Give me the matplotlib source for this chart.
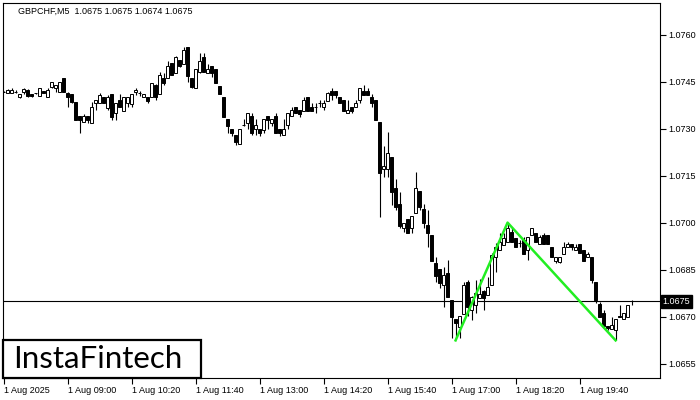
import numpy as np
import matplotlib.pyplot as plt
from matplotlib.patches import Rectangle
import matplotlib.transforms as mtransforms

plt.rcParams['font.family'] = ['Liberation Sans', 'DejaVu Sans']

# GBPCHF M5, 1 Aug 2025 07:40 .. 20:45
opens = [1.07419, 1.07416, 1.07414, 1.07417, 1.07401, 1.07417, 1.07424, 1.07411, 1.07415, 1.07405,
         1.07422, 1.07403, 1.07433, 1.07432, 1.07419, 1.07462, 1.07414, 1.07411, 1.07387, 1.07341,
         1.07323, 1.07341, 1.07320, 1.07382, 1.07382, 1.07401, 1.07366, 1.07412, 1.07350, 1.07393,
         1.07358, 1.07382, 1.07380, 1.07418, 1.07414, 1.07401, 1.07401, 1.07401, 1.07440, 1.07412,
         1.07462, 1.07462, 1.07512, 1.07480, 1.07520, 1.07507, 1.07563, 1.07462, 1.07430, 1.07481,
         1.07531, 1.07480, 1.07501, 1.07491, 1.07437, 1.07401, 1.07331, 1.07299, 1.07281, 1.07251,
         1.07313, 1.07320, 1.07341, 1.07299, 1.07299, 1.07297, 1.07341, 1.07320, 1.07341, 1.07299,
         1.07280, 1.07313, 1.07341, 1.07371, 1.07361, 1.07358, 1.07403, 1.07371, 1.07369, 1.07382,
         1.07369, 1.07390, 1.07422, 1.07422, 1.07403, 1.07393, 1.07350, 1.07371, 1.07369, 1.07393,
         1.07422, 1.07422, 1.07403, 1.07393, 1.07323, 1.07171, 1.07171, 1.07210, 1.07111, 1.07061,
         1.06983, 1.07012, 1.06983, 1.07031, 1.07103, 1.07044, 1.06994, 1.06962, 1.06871, 1.06852,
         1.06802, 1.06841, 1.06754, 1.06693, 1.06669, 1.06709, 1.06813, 1.06722, 1.06738, 1.06761,
         1.06783, 1.06770, 1.06802, 1.06890, 1.06914, 1.06930, 1.06940, 1.06972, 1.06951, 1.06935,
         1.06946, 1.06914, 1.06962, 1.06969, 1.06933, 1.06962, 1.06962, 1.06924, 1.06880, 1.06876,
         1.06901, 1.06924, 1.06933, 1.06914, 1.06933, 1.06914, 1.06890, 1.06892, 1.06813, 1.06741,
         1.06714, 1.06671, 1.06661, 1.06658, 1.06703, 1.06693, 1.06701, 1.06750]
highs = [1.07421, 1.07428, 1.07432, 1.07424, 1.07412, 1.07430, 1.07428, 1.07412, 1.07416, 1.07431,
         1.07422, 1.07430, 1.07451, 1.07440, 1.07451, 1.07462, 1.07419, 1.07411, 1.07387, 1.07341,
         1.07348, 1.07341, 1.07387, 1.07393, 1.07414, 1.07401, 1.07408, 1.07412, 1.07382, 1.07412,
         1.07401, 1.07401, 1.07412, 1.07430, 1.07421, 1.07412, 1.07401, 1.07448, 1.07444, 1.07483,
         1.07480, 1.07518, 1.07512, 1.07533, 1.07520, 1.07563, 1.07563, 1.07462, 1.07491, 1.07542,
         1.07542, 1.07507, 1.07501, 1.07491, 1.07437, 1.07401, 1.07331, 1.07299, 1.07281, 1.07299,
         1.07331, 1.07352, 1.07352, 1.07331, 1.07299, 1.07331, 1.07341, 1.07331, 1.07352, 1.07299,
         1.07331, 1.07350, 1.07371, 1.07371, 1.07361, 1.07403, 1.07403, 1.07382, 1.07382, 1.07393,
         1.07393, 1.07419, 1.07430, 1.07422, 1.07403, 1.07393, 1.07393, 1.07371, 1.07393, 1.07430,
         1.07440, 1.07430, 1.07412, 1.07393, 1.07323, 1.07244, 1.07291, 1.07210, 1.07139, 1.07100,
         1.07001, 1.07012, 1.07022, 1.07164, 1.07103, 1.07061, 1.07041, 1.06962, 1.06892, 1.06852,
         1.06860, 1.06882, 1.06754, 1.06693, 1.06703, 1.06813, 1.06818, 1.06767, 1.06818, 1.06820,
         1.06786, 1.06828, 1.06904, 1.06935, 1.06967, 1.06967, 1.07001, 1.06988, 1.06951, 1.06946,
         1.06956, 1.06956, 1.06983, 1.06969, 1.06962, 1.06967, 1.06962, 1.06924, 1.06890, 1.06890,
         1.06940, 1.06940, 1.06933, 1.06933, 1.06933, 1.06914, 1.06907, 1.06892, 1.06813, 1.06748,
         1.06722, 1.06671, 1.06701, 1.06693, 1.06738, 1.06713, 1.06738, 1.06754]
lows = [1.07417, 1.07415, 1.07414, 1.07414, 1.07398, 1.07411, 1.07402, 1.07401, 1.07411, 1.07405,
        1.07414, 1.07403, 1.07430, 1.07418, 1.07419, 1.07419, 1.07371, 1.07382, 1.07329, 1.07288,
        1.07323, 1.07320, 1.07320, 1.07361, 1.07382, 1.07382, 1.07361, 1.07329, 1.07329, 1.07371,
        1.07358, 1.07371, 1.07371, 1.07408, 1.07405, 1.07401, 1.07382, 1.07401, 1.07393, 1.07412,
        1.07440, 1.07462, 1.07472, 1.07480, 1.07499, 1.07507, 1.07451, 1.07430, 1.07430, 1.07478,
        1.07483, 1.07480, 1.07467, 1.07446, 1.07412, 1.07339, 1.07288, 1.07278, 1.07249, 1.07251,
        1.07310, 1.07299, 1.07281, 1.07281, 1.07278, 1.07288, 1.07299, 1.07310, 1.07288, 1.07278,
        1.07280, 1.07299, 1.07341, 1.07350, 1.07339, 1.07358, 1.07358, 1.07358, 1.07350, 1.07371,
        1.07361, 1.07390, 1.07393, 1.07398, 1.07382, 1.07358, 1.07350, 1.07350, 1.07369, 1.07382,
        1.07408, 1.07408, 1.07369, 1.07329, 1.07020, 1.07148, 1.07148, 1.07057, 1.07041, 1.06983,
        1.06972, 1.06969, 1.06969, 1.07031, 1.07041, 1.06983, 1.06924, 1.06880, 1.06813, 1.06791,
        1.06731, 1.06763, 1.06632, 1.06635, 1.06632, 1.06709, 1.06703, 1.06690, 1.06713, 1.06761,
        1.06722, 1.06770, 1.06802, 1.06844, 1.06914, 1.06930, 1.06940, 1.06940, 1.06922, 1.06922,
        1.06901, 1.06882, 1.06962, 1.06940, 1.06933, 1.06933, 1.06933, 1.06890, 1.06871, 1.06871,
        1.06901, 1.06924, 1.06914, 1.06914, 1.06904, 1.06880, 1.06890, 1.06807, 1.06744, 1.06701,
        1.06665, 1.06658, 1.06661, 1.06626, 1.06700, 1.06693, 1.06701, 1.06738]
closes = [1.07419, 1.07424, 1.07424, 1.07417, 1.07412, 1.07427, 1.07405, 1.07405, 1.07416, 1.07430,
          1.07414, 1.07424, 1.07449, 1.07440, 1.07451, 1.07419, 1.07401, 1.07387, 1.07329, 1.07329,
          1.07341, 1.07329, 1.07371, 1.07393, 1.07408, 1.07382, 1.07403, 1.07339, 1.07382, 1.07371,
          1.07401, 1.07401, 1.07412, 1.07424, 1.07414, 1.07412, 1.07390, 1.07448, 1.07402, 1.07472,
          1.07448, 1.07501, 1.07472, 1.07531, 1.07501, 1.07552, 1.07469, 1.07435, 1.07491, 1.07518,
          1.07483, 1.07491, 1.07480, 1.07446, 1.07412, 1.07339, 1.07310, 1.07288, 1.07259, 1.07299,
          1.07313, 1.07350, 1.07288, 1.07313, 1.07288, 1.07331, 1.07329, 1.07331, 1.07288, 1.07288,
          1.07299, 1.07350, 1.07361, 1.07350, 1.07348, 1.07393, 1.07358, 1.07358, 1.07369, 1.07382,
          1.07384, 1.07414, 1.07408, 1.07408, 1.07382, 1.07358, 1.07361, 1.07358, 1.07384, 1.07430,
          1.07408, 1.07408, 1.07382, 1.07329, 1.07160, 1.07182, 1.07222, 1.07100, 1.07050, 1.06990,
          1.07001, 1.06969, 1.07022, 1.07111, 1.07050, 1.07001, 1.06969, 1.06880, 1.06831, 1.06809,
          1.06834, 1.06763, 1.06701, 1.06682, 1.06703, 1.06802, 1.06731, 1.06764, 1.06777, 1.06773,
          1.06760, 1.06796, 1.06898, 1.06924, 1.06940, 1.06951, 1.06983, 1.06940, 1.06922, 1.06935,
          1.06901, 1.06956, 1.06983, 1.06940, 1.06954, 1.06933, 1.06933, 1.06890, 1.06890, 1.06890,
          1.06924, 1.06933, 1.06924, 1.06924, 1.06904, 1.06880, 1.06901, 1.06818, 1.06754, 1.06701,
          1.06671, 1.06664, 1.06674, 1.06693, 1.06701, 1.06713, 1.06738, 1.06750]

# double bottom pattern (bar index, price)
pattern_idx = [113, 126, 153]
pattern_px = [1.06625, 1.07001, 1.06625]

last_price = 1.0675
yticks = [1.0655, 1.0670, 1.0685, 1.0700, 1.0715, 1.0730, 1.0745, 1.0760]
xtick_idx = [0, 16, 32, 48, 64, 80, 96, 112, 128, 144]
xtick_labels = ['1 Aug 2025', '1 Aug 09:00', '1 Aug 10:20', '1 Aug 11:40', '1 Aug 13:00',
                '1 Aug 14:20', '1 Aug 15:40', '1 Aug 17:00', '1 Aug 18:20', '1 Aug 19:40']

o = np.array(opens)
h = np.array(highs)
l = np.array(lows)
c = np.array(closes)
x = np.arange(len(o))

fig = plt.figure(figsize=(7, 4), dpi=100)
ax = fig.add_axes([3/700, 22/400, 657/700, 375/400])

ax.vlines(x, l, h, color='black', linewidth=0.8, zorder=2)
bull = c >= o
ax.bar(x, np.abs(c - o), bottom=np.minimum(o, c), width=0.62,
       color=np.where(bull, 'white', 'black'), edgecolor='black', linewidth=0.7, zorder=3)

ax.axhline(last_price, color='black', linewidth=0.8, zorder=1)
ax.plot(pattern_idx, pattern_px, color='#22ee22', linewidth=1.8, zorder=4)

ax.set_xlim(-0.125, 164.1)
ax.set_ylim(1.06505, 1.07702)

ax.yaxis.tick_right()
ax.set_yticks(yticks)
ax.set_yticklabels(['%.4f' % v for v in yticks])
ax.set_xticks(xtick_idx)
ax.set_xticklabels(xtick_labels, ha='left')
ax.tick_params(axis='both', direction='out', length=4, width=0.8, labelsize=6.5, pad=2)
for s in ax.spines.values():
    s.set_linewidth(0.8)

trans = mtransforms.blended_transform_factory(ax.transAxes, ax.transData)
ax.text(1.004, last_price, '1.0675', transform=trans, color='white', fontsize=6.5,
        va='center', ha='left',
        bbox=dict(boxstyle='square,pad=0.2', facecolor='black', edgecolor='black'))

fig.text(18/700, 1 - 11/400, 'GBPCHF,M5  1.0675 1.0675 1.0674 1.0675', fontsize=6.5, va='center')

# logo
fig.patches.append(Rectangle((3/700, 22/400), 198/700, 38/400, transform=fig.transFigure,
                             facecolor='white', edgecolor='black', linewidth=1.6, zorder=5))
fig.text(98/700, 41/400, 'InstaFintech', fontsize=22.5, family='Lato', ha='center', va='center',
         zorder=6)

fig.savefig('out.png', dpi=100)
